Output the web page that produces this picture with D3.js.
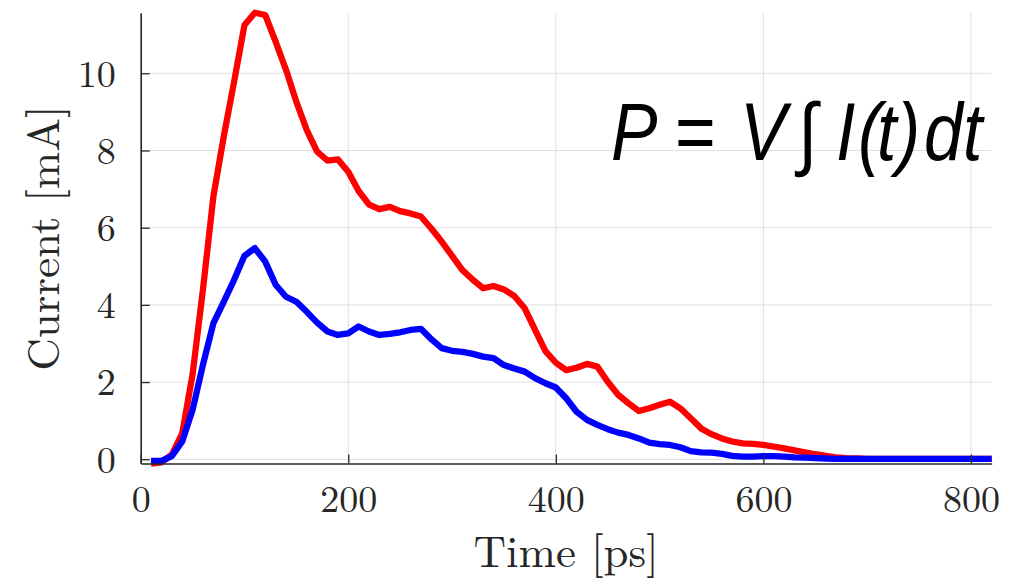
<!DOCTYPE html>
<html>
<head>
<meta charset="utf-8">
<script src="https://cdn.jsdelivr.net/npm/d3@7"></script>
<style>
  html, body { margin: 0; padding: 0; background: #fff; }
  svg { display: block; }
</style>
</head>
<body>
<svg id="chart" width="1011" height="584"></svg>
<script>
// Sample times [ps]
const timePs = [10,20,30,40,50,60,70,80,90,100,110,120,130,140,150,160,170,180,190,200,
  210,220,230,240,250,260,270,280,290,300,310,320,330,340,350,360,370,380,390,400,
  410,420,430,440,450,460,470,480,490,500,510,520,530,540,550,560,570,580,590,600,
  610,620,630,640,650,660,670,680,690,700,710,720,730,740,750,760,770,780,790,800,
  810,820];

// Current traces [mA]
const currentRed = [-0.11,-0.08,0.12,0.67,2.2,4.4,6.8,8.36,9.78,11.25,11.57,11.51,10.82,10.09,9.26,8.53,7.97,7.74,7.77,7.45,
  6.95,6.6,6.48,6.54,6.43,6.37,6.29,5.98,5.64,5.27,4.9,4.65,4.43,4.49,4.4,4.23,3.91,3.35,2.8,2.5,
  2.31,2.37,2.47,2.4,2.01,1.67,1.45,1.25,1.32,1.41,1.49,1.32,1.06,0.8,0.65,0.54,0.46,0.41,0.4,0.37,
  0.33,0.28,0.23,0.18,0.13,0.09,0.05,0.03,0.02,0.01,0.01,0.01,0.01,0.01,0.01,0.01,0.01,0.01,0.01,0.01,
  0.01,0.01];

const currentBlue = [-0.04,-0.04,0.08,0.46,1.28,2.45,3.52,4.08,4.65,5.27,5.47,5.12,4.52,4.21,4.08,3.82,3.54,3.31,3.22,3.26,
  3.44,3.31,3.22,3.25,3.29,3.35,3.38,3.11,2.88,2.81,2.78,2.73,2.66,2.62,2.44,2.35,2.27,2.1,1.97,1.86,
  1.58,1.23,1.02,0.89,0.78,0.69,0.63,0.54,0.43,0.39,0.37,0.31,0.21,0.18,0.17,0.14,0.09,0.07,0.07,0.08,
  0.08,0.07,0.05,0.04,0.03,0.02,0.01,0.01,0.01,0.01,0.01,0.01,0.01,0.01,0.01,0.01,0.01,0.01,0.01,0.01,
  0.01,0.01];

const xTicks = [0, 200, 400, 600, 800];
const yTicks = [0, 2, 4, 6, 8, 10];
const xLimits = [0, 820];

const svg = d3.select("#chart");
const margin = { left: 140.7, right: 1011 - 991.7, top: 12.7, bottom: 584 - 463.5 };
const W = 1011, H = 584;
const axisColor = "#262626";
const serif = "'Latin Modern Roman', 'CMU Serif', 'Liberation Serif', serif";

const x = d3.scaleLinear().domain(xLimits).range([margin.left, W - margin.right]);
// tight y limits around the data
const yExt = d3.extent(currentRed.concat(currentBlue));
const y = d3.scaleLinear().domain(yExt).range([H - margin.bottom, margin.top]);

// grid
const grid = svg.append("g").attr("stroke", "#dfdfdf").attr("stroke-width", 1);
grid.selectAll(".gx").data(xTicks.filter(d => d > 0)).join("line")
  .attr("x1", d => x(d)).attr("x2", d => x(d))
  .attr("y1", y.range()[0]).attr("y2", y.range()[1]);
grid.selectAll(".gy").data(yTicks).join("line")
  .attr("x1", x.range()[0]).attr("x2", x.range()[1])
  .attr("y1", d => y(d)).attr("y2", d => y(d));

// curves
const line = d3.line().x((d, i) => x(timePs[i])).y(d => y(d));
[["#ff0000", currentRed], ["#0000ff", currentBlue]].forEach(([col, vals]) => {
  svg.append("path").datum(vals)
    .attr("d", line)
    .attr("fill", "none")
    .attr("stroke", col)
    .attr("stroke-width", 6.3)
    .attr("stroke-linejoin", "round")
    .attr("stroke-linecap", "butt");
});

// axes with inward ticks
const xAxis = svg.append("g").attr("transform", `translate(0,${y.range()[0]})`)
  .call(d3.axisBottom(x).tickValues(xTicks).tickSizeInner(-9).tickSizeOuter(0).tickPadding(22));
const yAxis = svg.append("g").attr("transform", `translate(${x.range()[0]},0)`)
  .call(d3.axisLeft(y).tickValues(yTicks).tickSizeInner(-9).tickSizeOuter(0).tickPadding(25));

[xAxis, yAxis].forEach(a => {
  a.select(".domain").attr("stroke", axisColor).attr("stroke-width", 1.6);
  a.selectAll(".tick line").attr("stroke", axisColor).attr("stroke-width", 1.3);
  a.selectAll(".tick text").attr("fill", axisColor)
    .style("font-family", serif).style("font-size", "38px");
});
xAxis.selectAll(".tick text").attr("dy", "0.71em");
yAxis.selectAll(".tick text").attr("dy", "0.34em");

// axis labels
svg.append("text")
  .attr("x", (x.range()[0] + x.range()[1]) / 2).attr("y", 567)
  .attr("text-anchor", "middle")
  .attr("fill", axisColor)
  .style("font-family", serif).style("font-size", "45px")
  .text("Time [ps]");

svg.append("text")
  .attr("transform", `translate(59,${(y.range()[0] + y.range()[1]) / 2}) rotate(-90)`)
  .attr("text-anchor", "middle")
  .attr("fill", axisColor)
  .style("font-family", serif).style("font-size", "45px")
  .text("Current [mA]");

// power formula annotation: slightly condensed sans, glyphs placed individually
const squeeze = 0.86;
const f = svg.append("text")
  .attr("transform", `translate(0,160) scale(${squeeze},1)`)
  .attr("fill", "#000")
  .style("font-family", "'Liberation Sans', Arial, sans-serif")
  .style("font-size", "81px");
const parts = [
  { t: "P", xs: [611], italic: true },
  { t: "=", xs: [675], italic: false },
  { t: "V", xs: [740], italic: true },
  { t: "\u222B", xs: [798], italic: false },
  { t: "I(t)dt", xs: [836, 858, 877, 897, 924, 963], italic: true }
];
parts.forEach(p => {
  f.append("tspan")
    .attr("x", p.xs.map(v => (v / squeeze).toFixed(1)).join(" "))
    .attr("y", 0)
    .style("font-style", p.italic ? "italic" : "normal")
    .text(p.t);
});
</script>
</body>
</html>
